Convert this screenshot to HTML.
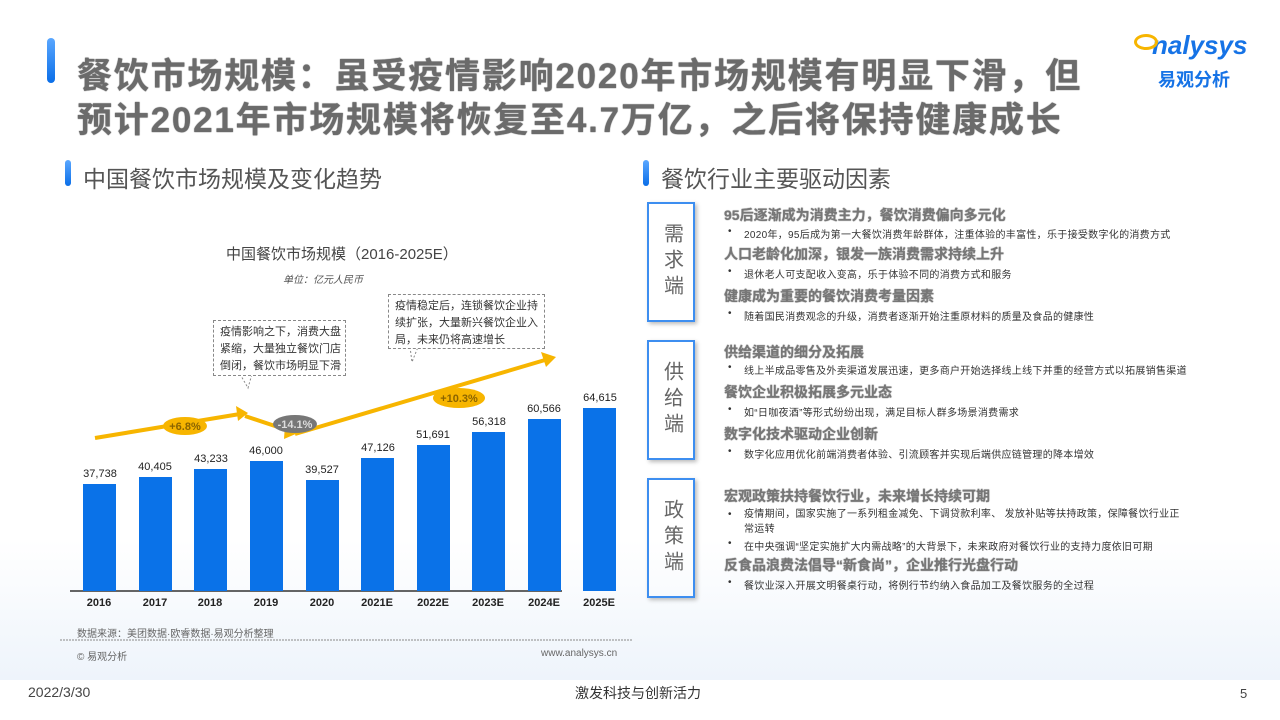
<!DOCTYPE html>
<html><head><meta charset="utf-8">
<style>
*{margin:0;padding:0;box-sizing:border-box}
body{width:1280px;height:720px;position:relative;overflow:hidden;background:#fff;font-family:"Liberation Sans","Noto Sans CJK SC",sans-serif;color:#444}
.a{position:absolute;white-space:nowrap}
.ttl{font-size:35px;font-weight:bold;color:#6b6b6b;letter-spacing:1.8px;text-shadow:0 0 1px #333}
.bar{position:absolute;width:33px;background:#0a72e8}
.val{position:absolute;width:60px;text-align:center;font-size:11px;color:#222}
.yr{position:absolute;width:60px;text-align:center;font-size:11px;font-weight:bold;color:#222;top:597px}
.box{position:absolute;left:647px;width:48px;height:120px;border:2px solid #3d8ef0;box-shadow:2px 2px 4px #bbb;font-size:20px;color:#666;text-align:center;line-height:27px;display:flex;align-items:center;justify-content:center;writing-mode:vertical-rl;letter-spacing:6px}
.h{position:absolute;left:724px;font-size:14px;font-weight:bold;color:#777;text-shadow:0 0 1px #555;white-space:nowrap}
.b{position:absolute;left:728px;font-size:10px;letter-spacing:0.3px;color:#333;white-space:nowrap}
.b:before{content:"•";position:absolute;left:0}
.b span{margin-left:16px}
.note{position:absolute;border:1.5px dashed #888;background:#fff;font-size:11px;line-height:17px;color:#333;padding:3px 6px;white-space:nowrap}
</style></head><body>
<div class="a" style="left:0;top:540px;width:1280px;height:140px;background:linear-gradient(#fff,#eef4fb)"></div>
<div class="a" style="left:47px;top:38px;width:8px;height:45px;border-radius:4px;background:linear-gradient(#5aa7ff,#0a6ee8)"></div>
<div class="a ttl" style="left:77px;top:48px;">餐饮市场规模：虽受疫情影响2020年市场规模有明显下滑，但</div>
<div class="a ttl" style="left:77px;top:92px;">预计2021年市场规模将恢复至4.7万亿，之后将保持健康成长</div>
<div class="a" style="left:1152px;top:30px;font-size:26px;font-weight:bold;color:#1673e6;font-style:italic">nalysys</div>
<div class="a" style="left:1134px;top:34px;width:24px;height:16px;border:3px solid #f7b500;border-radius:50%"></div>
<div class="a" style="left:1158px;top:66px;font-size:18px;font-weight:bold;color:#1673e6">易观分析</div>

<div class="a" style="left:65px;top:160px;width:6px;height:26px;border-radius:3px;background:linear-gradient(#5aa7ff,#0a6ee8)"></div>
<div class="a" style="left:83px;top:160px;font-size:23px;color:#555">中国餐饮市场规模及变化趋势</div>
<div class="a" style="left:643px;top:160px;width:6px;height:26px;border-radius:3px;background:linear-gradient(#5aa7ff,#0a6ee8)"></div>
<div class="a" style="left:661px;top:160px;font-size:23px;color:#555">餐饮行业主要驱动因素</div>

<div class="a" style="left:226px;top:243px;font-size:15px;color:#444">中国餐饮市场规模（2016-2025E）</div>
<div class="a" style="left:283px;top:271px;font-size:10px;font-style:italic;color:#555">单位：亿元人民币</div>

<svg class="a" style="left:0;top:0" width="640" height="720">
<polyline points="95,438 240,414" stroke="#f7b500" stroke-width="4" fill="none"/>
<polygon points="248,413 236,406 238,421" fill="#f7b500"/>
<polyline points="245,416 290,431" stroke="#f7b500" stroke-width="4" fill="none"/>
<polygon points="298,433 285,424 284,439" fill="#f7b500"/>
<polyline points="295,434 545,360" stroke="#f7b500" stroke-width="4" fill="none"/>
<polygon points="556,357 541,352 546,367" fill="#f7b500"/>
<ellipse cx="185" cy="426" rx="22" ry="9" fill="#f7b500"/>
<ellipse cx="295" cy="424" rx="22" ry="9" fill="#777"/>
<ellipse cx="459" cy="398" rx="26" ry="10" fill="#f7b500"/>
<text x="185" y="430" font-size="11" text-anchor="middle" fill="#8a6400" font-weight="bold">+6.8%</text>
<text x="295" y="428" font-size="11" text-anchor="middle" fill="#ddd" font-weight="bold">-14.1%</text>
<text x="459" y="402" font-size="11" text-anchor="middle" fill="#8a6400" font-weight="bold">+10.3%</text>
<line x1="70" y1="591" x2="562" y2="591" stroke="#333" stroke-width="1.5"/>
<line x1="60" y1="640" x2="632" y2="640" stroke="#888" stroke-dasharray="2,1"/>
<polyline points="240,374 248,388 252,374" stroke="#888" fill="#fff" stroke-dasharray="2,2"/>
<polyline points="410,347 412,362 418,347" stroke="#888" fill="#fff" stroke-dasharray="2,2"/>
</svg>
<div class="note" style="left:213px;top:320px;width:133px;height:56px">疫情影响之下，消费大盘<br>紧缩，大量独立餐饮门店<br>倒闭，餐饮市场明显下滑</div>
<div class="note" style="left:388px;top:294px;width:157px;height:55px">疫情稳定后，连锁餐饮企业持<br>续扩张，大量新兴餐饮企业入<br>局，未来仍将高速增长</div>

<div class="bar" style="left:83px;top:484px;height:107px"></div>
<div class="bar" style="left:139px;top:477px;height:114px"></div>
<div class="bar" style="left:194px;top:469px;height:122px"></div>
<div class="bar" style="left:250px;top:461px;height:130px"></div>
<div class="bar" style="left:306px;top:480px;height:111px"></div>
<div class="bar" style="left:361px;top:458px;height:133px"></div>
<div class="bar" style="left:417px;top:445px;height:146px"></div>
<div class="bar" style="left:472px;top:432px;height:159px"></div>
<div class="bar" style="left:528px;top:419px;height:172px"></div>
<div class="bar" style="left:583px;top:408px;height:183px"></div>
<div class="val" style="left:70px;top:468px">37,738</div>
<div class="val" style="left:125px;top:461px">40,405</div>
<div class="val" style="left:181px;top:453px">43,233</div>
<div class="val" style="left:236px;top:445px">46,000</div>
<div class="val" style="left:292px;top:464px">39,527</div>
<div class="val" style="left:348px;top:442px">47,126</div>
<div class="val" style="left:403px;top:429px">51,691</div>
<div class="val" style="left:459px;top:416px">56,318</div>
<div class="val" style="left:514px;top:403px">60,566</div>
<div class="val" style="left:570px;top:392px">64,615</div>
<div class="yr" style="left:69px">2016</div><div class="yr" style="left:125px">2017</div><div class="yr" style="left:180px">2018</div><div class="yr" style="left:236px">2019</div><div class="yr" style="left:292px">2020</div><div class="yr" style="left:347px">2021E</div><div class="yr" style="left:403px">2022E</div><div class="yr" style="left:458px">2023E</div><div class="yr" style="left:514px">2024E</div><div class="yr" style="left:569px">2025E</div>

<div class="a" style="left:77px;top:625px;font-size:10px;color:#666">数据来源：美团数据·欧睿数据·易观分析整理</div>
<div class="a" style="left:77px;top:648px;font-size:10px;color:#666">© 易观分析</div>
<div class="a" style="left:541px;top:648px;font-size:10px;color:#666">www.analysys.cn</div>

<div class="box" style="top:202px">需求端</div>
<div class="box" style="top:340px">供给端</div>
<div class="box" style="top:478px">政策端</div>
<div class="h" style="top:205px">95后逐渐成为消费主力，餐饮消费偏向多元化</div>
<div class="b" style="top:226px"><span>2020年，95后成为第一大餐饮消费年龄群体，注重体验的丰富性，乐于接受数字化的消费方式</span></div>
<div class="h" style="top:244px">人口老龄化加深，银发一族消费需求持续上升</div>
<div class="b" style="top:266px"><span>退休老人可支配收入变高，乐于体验不同的消费方式和服务</span></div>
<div class="h" style="top:286px">健康成为重要的餐饮消费考量因素</div>
<div class="b" style="top:308px"><span>随着国民消费观念的升级，消费者逐渐开始注重原材料的质量及食品的健康性</span></div>
<div class="h" style="top:342px">供给渠道的细分及拓展</div>
<div class="b" style="top:362px"><span>线上半成品零售及外卖渠道发展迅速，更多商户开始选择线上线下并重的经营方式以拓展销售渠道</span></div>
<div class="h" style="top:382px">餐饮企业积极拓展多元业态</div>
<div class="b" style="top:404px"><span>如“日咖夜酒”等形式纷纷出现，满足目标人群多场景消费需求</span></div>
<div class="h" style="top:424px">数字化技术驱动企业创新</div>
<div class="b" style="top:446px"><span>数字化应用优化前端消费者体验、引流顾客并实现后端供应链管理的降本增效</span></div>
<div class="h" style="top:486px">宏观政策扶持餐饮行业，未来增长持续可期</div>
<div class="b" style="top:507px;line-height:15px"><span>疫情期间，国家实施了一系列租金减免、下调贷款利率、 发放补贴等扶持政策，保障餐饮行业正</span><br><span>常运转</span></div>
<div class="b" style="top:538px"><span>在中央强调“坚定实施扩大内需战略”的大背景下，未来政府对餐饮行业的支持力度依旧可期</span></div>
<div class="h" style="top:555px">反食品浪费法倡导“新食尚”，企业推行光盘行动</div>
<div class="b" style="top:577px"><span>餐饮业深入开展文明餐桌行动，将例行节约纳入食品加工及餐饮服务的全过程</span></div>

<div class="a" style="left:0;top:680px;width:1280px;height:40px;background:#fff"></div>
<div class="a" style="left:28px;top:684px;font-size:14px;color:#444">2022/3/30</div>
<div class="a" style="left:575px;top:683px;font-size:14px;color:#333">激发科技与创新活力</div>
<div class="a" style="left:1240px;top:686px;font-size:13px;color:#444">5</div>
</body></html>
